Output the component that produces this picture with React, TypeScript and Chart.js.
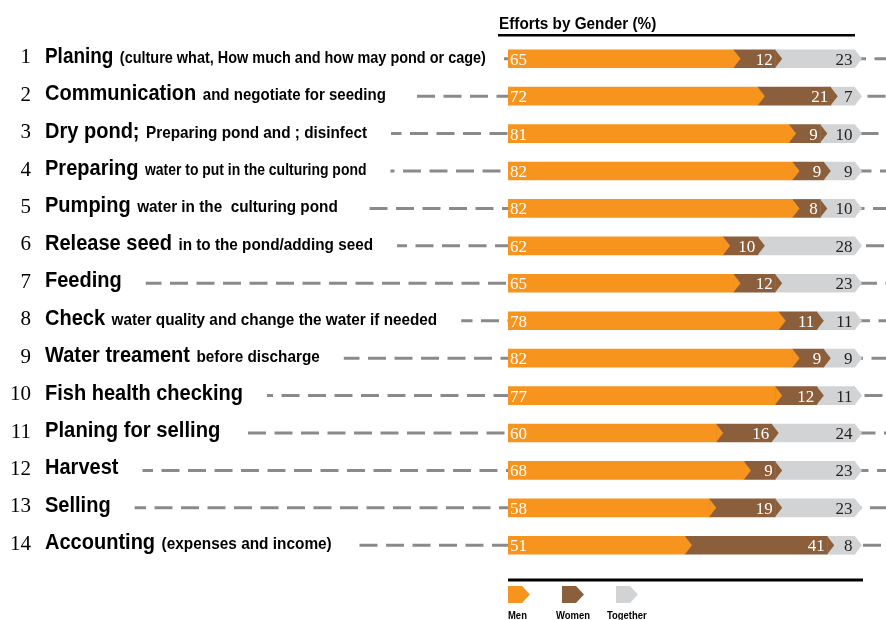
import React, { useEffect, useRef } from "react";
import { Chart, registerables } from "chart.js";

Chart.register(...registerables);

const categories = ["1", "2", "3", "4", "5", "6", "7", "8", "9", "10", "11", "12", "13", "14"];
const mainLabels = [
  "Planing",
  "Communication",
  "Dry pond;",
  "Preparing",
  "Pumping",
  "Release seed",
  "Feeding",
  "Check",
  "Water treament",
  "Fish health checking",
  "Planing for selling",
  "Harvest",
  "Selling",
  "Accounting",
];
const subLabels = [
  "(culture what, How much and how may pond or cage)",
  "and negotiate for seeding",
  "Preparing pond and ; disinfect",
  "water to put in the culturing pond",
  "water in the  culturing pond",
  "in to the pond/adding seed",
  "",
  "water quality and change the water if needed",
  "before discharge",
  "",
  "",
  "",
  "",
  "(expenses and income)",
];
const menValues = [65, 72, 81, 82, 82, 62, 65, 78, 82, 77, 60, 68, 58, 51];
const womenValues = [12, 21, 9, 9, 8, 10, 12, 11, 9, 12, 16, 9, 19, 41];
const togetherValues = [23, 7, 10, 9, 10, 28, 23, 11, 9, 11, 24, 23, 23, 8];
const seriesNames = ["Men", "Women", "Together"];
const chartTitle = "Efforts by Gender (%)";

// typographic horizontal stretch of the (condensed) label fonts, per row
const mainStretch = [0.86, 0.91, 0.91, 0.91, 0.91, 0.91, 0.91, 0.91, 0.91, 0.91, 0.92, 0.91, 0.91, 0.91];
const subStretch = [0.85, 0.885, 0.9, 0.82, 0.9, 0.9, 0.9, 0.9, 0.9, 0.9, 0.9, 0.9, 0.9, 0.905];

const COLORS = ["#F7941D", "#8B5E3C", "#D1D3D4"];
const VALUE_COLORS = ["#FFFFFF", "#FFFFFF", "#231F20"];
const SANS = '"Liberation Sans", Arial, sans-serif';
const SERIF = '"Liberation Serif", "Times New Roman", serif';
const MAIN_FONT = `bold 22px ${SANS}`;
const SUB_FONT = `bold 17px ${SANS}`;

function drawScaled(
  ctx: CanvasRenderingContext2D,
  text: string,
  x: number,
  y: number,
  font: string,
  sx: number
): number {
  ctx.font = font;
  const w = ctx.measureText(text).width * sx;
  ctx.save();
  ctx.translate(x, y);
  ctx.scale(sx, 1);
  ctx.textAlign = "left";
  ctx.textBaseline = "alphabetic";
  ctx.fillText(text, 0, 0);
  ctx.restore();
  return w;
}

function chevron(ctx: CanvasRenderingContext2D, x0: number, x1: number, y0: number, y1: number, tip: number) {
  ctx.beginPath();
  ctx.moveTo(x0, y0);
  ctx.lineTo(x1, y0);
  ctx.lineTo(x1 + tip, (y0 + y1) / 2);
  ctx.lineTo(x1, y1);
  ctx.lineTo(x0, y1);
  ctx.closePath();
  ctx.fill();
}

export default function App() {
  const ref = useRef<HTMLCanvasElement>(null);

  useEffect(() => {
    const canvas = ref.current;
    if (!canvas) return;

    const decor = {
      id: "decor",
      beforeDatasetsDraw(chart: any) {
        const ctx: CanvasRenderingContext2D = chart.ctx;
        const yScale = chart.scales.y;
        const area = chart.chartArea;
        ctx.save();
        categories.forEach((num, i) => {
          const y = yScale.getPixelForValue(i);
          // dashed guide line
          ctx.save();
          ctx.strokeStyle = "#8A8A8A";
          ctx.lineWidth = 3;
          ctx.setLineDash([18, 8.5]);
          ctx.lineDashOffset = (i * 7) % 26.5;
          ctx.beginPath();
          ctx.moveTo(0, y);
          ctx.lineTo(chart.width, y);
          ctx.stroke();
          ctx.restore();

          // measure label
          ctx.font = MAIN_FONT;
          const mw = ctx.measureText(mainLabels[i]).width * mainStretch[i];
          ctx.font = SUB_FONT;
          const sw = subLabels[i] ? ctx.measureText(subLabels[i]).width * subStretch[i] + 6.5 : 0;
          const end = 45 + mw + sw;
          ctx.fillStyle = "#FFFFFF";
          ctx.fillRect(0, y - 5, Math.min(end + 24, area.left - 4), 10);

          // number
          ctx.fillStyle = "#000000";
          ctx.font = `21px ${SERIF}`;
          ctx.textAlign = "right";
          ctx.textBaseline = "alphabetic";
          ctx.fillText(num, 31, y + 4.5);

          // main + sub labels
          const w1 = drawScaled(ctx, mainLabels[i], 45, y + 4, MAIN_FONT, mainStretch[i]);
          if (subLabels[i]) {
            drawScaled(ctx, subLabels[i], 45 + w1 + 6.5, y + 4, SUB_FONT, subStretch[i]);
          }
        });

        // title and rule
        ctx.fillStyle = "#000000";
        drawScaled(ctx, chartTitle, 499, 29, `bold 17px ${SANS}`, 0.9);
        ctx.fillRect(498, 34, area.right - 498, 2.5);
        ctx.restore();
      },
      afterDatasetsDraw(chart: any) {
        const ctx: CanvasRenderingContext2D = chart.ctx;
        ctx.save();
        // arrow tips
        for (let d = 0; d < 3; d++) {
          const meta = chart.getDatasetMeta(d);
          ctx.fillStyle = COLORS[d];
          meta.data.forEach((bar: any) => {
            const p = bar.getProps(["x", "y", "height"], true);
            ctx.beginPath();
            ctx.moveTo(p.x, p.y - p.height / 2);
            ctx.lineTo(p.x + 7, p.y);
            ctx.lineTo(p.x, p.y + p.height / 2);
            ctx.closePath();
            ctx.fill();
          });
        }
        // values
        ctx.font = `17px ${SERIF}`;
        ctx.textBaseline = "alphabetic";
        for (let d = 0; d < 3; d++) {
          const meta = chart.getDatasetMeta(d);
          const values = chart.data.datasets[d].data as number[];
          ctx.fillStyle = VALUE_COLORS[d];
          meta.data.forEach((bar: any, i: number) => {
            const p = bar.getProps(["x", "y", "base"], true);
            if (d === 0) {
              ctx.textAlign = "left";
              ctx.fillText(String(values[i]), p.base + 2, p.y + 6);
            } else {
              ctx.textAlign = "right";
              ctx.fillText(String(values[i]), p.x - 2.5, p.y + 6);
            }
          });
        }
        ctx.restore();
      },
      afterDraw(chart: any) {
        const ctx: CanvasRenderingContext2D = chart.ctx;
        const area = chart.chartArea;
        ctx.save();
        ctx.fillStyle = "#000000";
        ctx.fillRect(area.left, 578.5, area.right + 8 - area.left, 3);
        const lx = [508, 562, 616];
        const tx = [508, 556, 607];
        seriesNames.forEach((name, k) => {
          ctx.fillStyle = COLORS[k];
          chevron(ctx, lx[k], lx[k] + 14, 586, 603, 8);
          ctx.fillStyle = "#000000";
          drawScaled(ctx, name, tx[k], 619, `bold 10.5px ${SANS}`, 0.9);
        });
        ctx.restore();
      },
    };

    const chart = new Chart(canvas, {
      type: "bar",
      data: {
        labels: categories.map((c, i) => `${c} ${mainLabels[i]} ${subLabels[i]}`.trim()),
        datasets: [
          { label: seriesNames[0], data: menValues, backgroundColor: COLORS[0], borderWidth: 0 },
          { label: seriesNames[1], data: womenValues, backgroundColor: COLORS[1], borderWidth: 0 },
          { label: seriesNames[2], data: togetherValues, backgroundColor: COLORS[2], borderWidth: 0 },
        ],
      },
      options: {
        responsive: false,
        animation: false,
        devicePixelRatio: 1,
        indexAxis: "y",
        layout: { padding: { left: 508, right: 31, top: 40, bottom: 56 } },
        datasets: { bar: { barThickness: 18 } },
        scales: {
          x: { stacked: true, min: 0, max: 100, display: false },
          y: { stacked: true, display: false },
        },
        plugins: { legend: { display: false }, tooltip: { enabled: false }, title: { display: false } },
      },
      plugins: [decor],
    } as any);

    return () => chart.destroy();
  }, []);

  return (
    <div style={{ position: "fixed", left: 0, top: 0, width: 886, height: 620, background: "#fff" }}>
      <canvas ref={ref} width={886} height={620} />
    </div>
  );
}
